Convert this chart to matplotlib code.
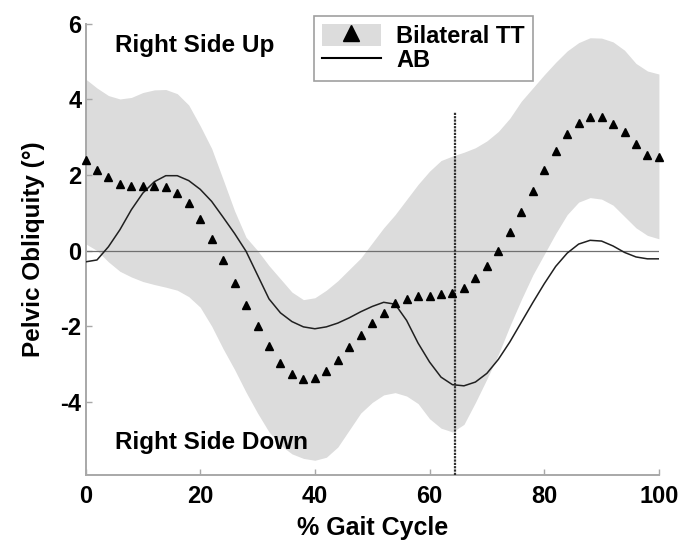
import matplotlib
matplotlib.use("Agg")
import matplotlib.pyplot as plt
from matplotlib.lines import Line2D
from matplotlib.patches import Patch
from matplotlib.legend_handler import HandlerTuple
from matplotlib.font_manager import FontProperties

plt.rcParams['font.family'] = ['Liberation Sans', 'DejaVu Sans']
plt.rcParams['font.weight'] = 'bold'
plt.rcParams['axes.unicode_minus'] = False

# % gait cycle, sampled every 2%
gait = list(range(0, 101, 2))

# bilateral TT group mean
tt_mean = [2.39, 2.14, 1.94, 1.76, 1.72, 1.72, 1.72, 1.68, 1.53, 1.27,
           0.83, 0.31, -0.24, -0.85, -1.43, -2.01, -2.53, -2.97, -3.27, -3.40,
           -3.38, -3.19, -2.90, -2.56, -2.23, -1.92, -1.64, -1.40, -1.27, -1.20,
           -1.20, -1.16, -1.13, -0.99, -0.74, -0.41, 0.00, 0.48, 1.02, 1.57,
           2.12, 2.64, 3.07, 3.37, 3.52, 3.52, 3.36, 3.14, 2.82, 2.53,
           2.47]

# bilateral TT band (upper / lower edge)
tt_upper = [4.54, 4.30, 4.10, 4.01, 4.05, 4.18, 4.25, 4.26, 4.15, 3.85,
            3.30, 2.70, 1.88, 1.05, 0.35, 0.00, -0.40, -0.75, -1.10, -1.30,
            -1.25, -1.05, -0.80, -0.50, -0.20, 0.20, 0.60, 0.95, 1.35, 1.75,
            2.10, 2.38, 2.50, 2.60, 2.72, 2.90, 3.15, 3.50, 3.95, 4.30,
            4.65, 4.98, 5.28, 5.50, 5.63, 5.62, 5.52, 5.30, 4.95, 4.75,
            4.67]
tt_lower = [0.18, 0.00, -0.30, -0.55, -0.70, -0.82, -0.90, -0.97, -1.05, -1.22,
            -1.50, -2.00, -2.60, -3.15, -3.75, -4.30, -4.80, -5.15, -5.38, -5.50,
            -5.55, -5.47, -5.20, -4.75, -4.30, -4.02, -3.82, -3.76, -3.85, -4.05,
            -4.45, -4.70, -4.80, -4.60, -4.02, -3.40, -2.75, -2.00, -1.30, -0.65,
            -0.10, 0.45, 0.95, 1.28, 1.40, 1.36, 1.20, 0.90, 0.60, 0.40,
            0.31]

# able-bodied mean
ab_mean = [-0.30, -0.25, 0.10, 0.55, 1.08, 1.52, 1.82, 1.98, 1.98, 1.85,
           1.62, 1.30, 0.88, 0.45, -0.02, -0.65, -1.28, -1.65, -1.88, -2.02,
           -2.07, -2.02, -1.92, -1.78, -1.62, -1.48, -1.37, -1.42, -1.85, -2.45,
           -2.95, -3.35, -3.55, -3.58, -3.48, -3.25, -2.88, -2.42, -1.90, -1.38,
           -0.88, -0.42, -0.07, 0.17, 0.27, 0.25, 0.12, -0.05, -0.17, -0.22,
           -0.22]

toe_off = 64.5
ymin, ymax = -5.94, 6

fig = plt.figure(figsize=(6.98, 5.46), dpi=100)
ax = fig.add_axes([0.1225, 0.130, 0.8215, 0.8265])

band_col = '#dcdcdc'
ax.fill_between(gait, tt_lower, tt_upper, color=band_col, lw=0, zorder=1)
ax.axhline(0, color='#707070', lw=0.9, zorder=2)
ax.vlines(toe_off, ymin, 3.66, color='#303030', lw=1.6, linestyles=(0, (1, 0.5)), zorder=3)
ax.plot(gait, ab_mean, color='#202020', lw=1.1, zorder=4)
ax.plot(gait, tt_mean, ls='none', marker='^', ms=5.5, color='black', clip_on=False, zorder=5)

ax.set_xlim(0, 100)
ax.set_ylim(ymin, ymax)
ax.set_xticks([0, 20, 40, 60, 80, 100])
ax.set_yticks([-4, -2, 0, 2, 4, 6])

for s in ['top', 'right']:
    ax.spines[s].set_visible(False)
for s in ['left', 'bottom']:
    ax.spines[s].set_color('#a8a8a8')
    ax.spines[s].set_linewidth(1.4)
ax.tick_params(direction='in', length=4, width=1, color='#a8a8a8', labelsize=17)
ax.tick_params(axis='x', pad=7)
ax.tick_params(axis='y', pad=3)
for lab in ax.get_xticklabels() + ax.get_yticklabels():
    lab.set_fontweight('bold')

ax.set_xlabel('% Gait Cycle', fontsize=18, fontweight='bold', labelpad=6)
ax.set_ylabel('Pelvic Obliquity (°)', fontsize=17.5, fontweight='bold', labelpad=11)

ax.text(5.1, 5.26, 'Right Side Up', fontsize=17.5, fontweight='bold', va='baseline')
ax.text(5.1, -5.26, 'Right Side Down', fontsize=17.5, fontweight='bold', va='baseline')

tt_handle = (Patch(facecolor=band_col, edgecolor='none'),
             Line2D([], [], ls='none', marker='^', ms=12, color='black'))
ab_handle = Line2D([], [], color='black', lw=1.5)
leg_font = FontProperties(family='Liberation Sans', weight='bold', size=17)
leg = ax.legend([tt_handle, ab_handle], ['Bilateral TT', 'AB'],
                handler_map={tuple: HandlerTuple(ndivide=1, pad=0)},
                loc='upper left', bbox_to_anchor=(0.398, 1.018),
                handlelength=2.5, handleheight=1.05,
                labelspacing=0.02, borderpad=0.35, handletextpad=0.65,
                borderaxespad=0, fancybox=False, framealpha=1,
                prop=leg_font)
leg.get_frame().set_edgecolor('#a0a0a0')
leg.get_frame().set_linewidth(1.2)

fig.savefig('out.png', dpi=100)
